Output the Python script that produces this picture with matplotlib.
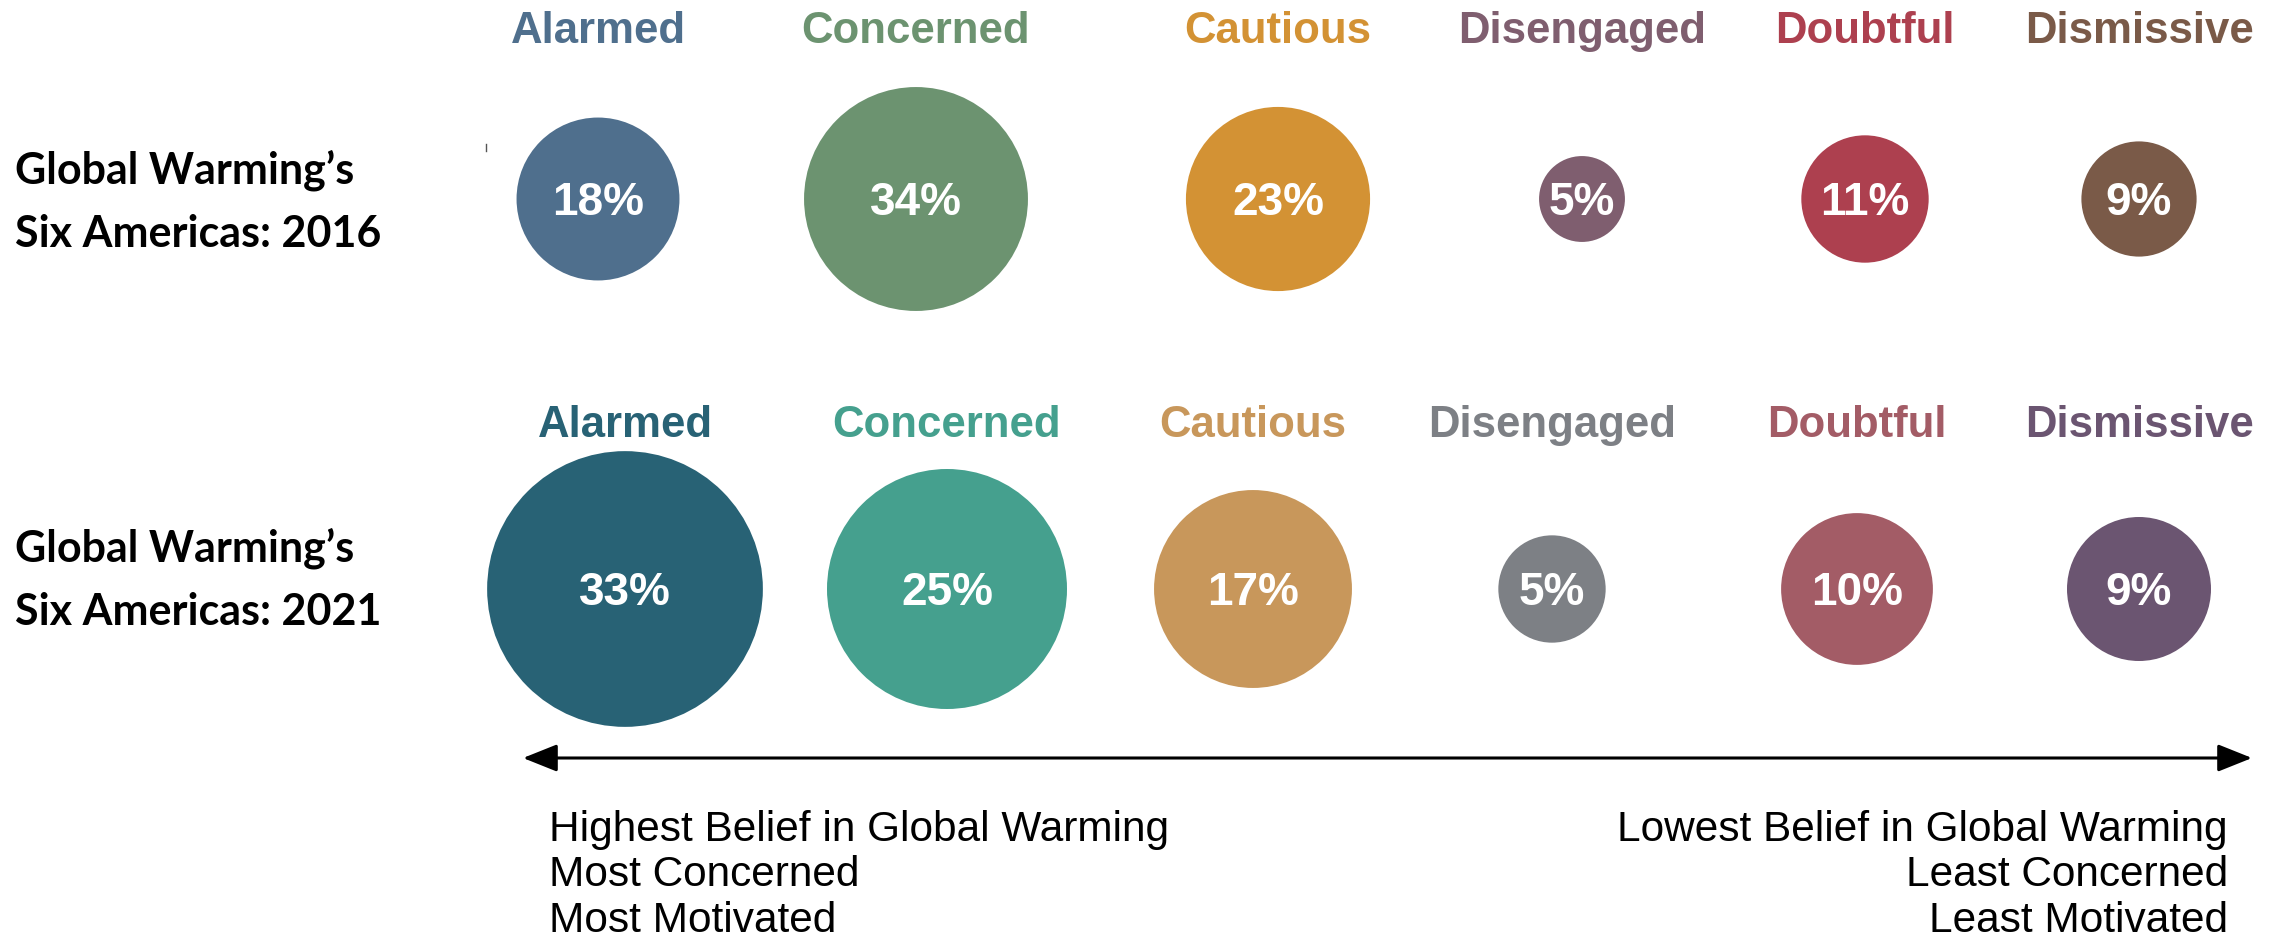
import numpy as np
import matplotlib
matplotlib.use('Agg')
import matplotlib.pyplot as plt
from matplotlib.patches import Circle

# data
segments = ['Alarmed', 'Concerned', 'Cautious', 'Disengaged', 'Doubtful', 'Dismissive']
pct_2016 = [18, 34, 23, 5, 11, 9]
pct_2021 = [33, 25, 17, 5, 10, 9]
row_titles = ["Global Warming\u2019s\nSix Americas: 2016", "Global Warming\u2019s\nSix Americas: 2021"]
left_notes = ['Highest Belief in Global Warming', 'Most Concerned', 'Most Motivated']
right_notes = ['Lowest Belief in Global Warming', 'Least Concerned', 'Least Motivated']

colors_2016 = ['#4f6f8d', '#6c9370', '#d39234', '#7f5e6f', '#ad404f', '#7a5a48']
colors_2021 = ['#286275', '#45a08e', '#c8975b', '#7d8085', '#a35c66', '#6b5571']

# layout (pixels of the 2269x937 canvas)
W, H = 2269, 937
xpos_2016 = [598, 916, 1278, 1582, 1865, 2139]
xpos_2021 = [625, 947, 1253, 1552, 1857, 2139]
rows = [
    dict(pct=pct_2016, cols=colors_2016, xs=xpos_2016, y=200, k=19.2, lab_base=43, title_base=247),
    dict(pct=pct_2021, cols=colors_2021, xs=xpos_2021, y=590, k=24.0, lab_base=437, title_base=625),
]

fig = plt.figure(figsize=(W/100, H/100), dpi=100)
ax = fig.add_axes([0, 0, 1, 1])
ax.set_xlim(0, W)
ax.set_ylim(H, 0)
ax.axis('off')

for row, title in zip(rows, row_titles):
    for name, p, c, x in zip(segments, row['pct'], row['cols'], row['xs']):
        r = row['k'] * np.sqrt(p)
        ax.add_patch(Circle((x, row['y']), r, facecolor=c, edgecolor='none'))
        ax.text(x, row['y'] + 15, '%d%%' % p, color='white', fontsize=33, fontweight='bold',
                family='Liberation Sans', ha='center', va='baseline')
        ax.text(x, row['lab_base'], name, color=c, fontsize=31.5, fontweight='bold',
                family='Liberation Sans', ha='center', va='baseline')
    ax.text(15, row['title_base'], title, color='black', fontsize=31, fontweight='bold',
            family='Lato', ha='left', va='baseline', linespacing=1.7)

# small stray mark from the original
ax.plot([486, 486], [145, 152], color='#555555', lw=1)

# belief arrow
ax.annotate('', xy=(2252, 759), xytext=(523, 759),
            arrowprops=dict(arrowstyle='<|-|>,head_length=1.5,head_width=0.6',
                            mutation_scale=14, lw=2.2, color='black',
                            shrinkA=0, shrinkB=0))

for i, (l, r) in enumerate(zip(left_notes, right_notes)):
    yb = 841 + i * 45.5
    ax.text(549, yb, l, fontsize=30.5, family='Liberation Sans', ha='left', va='baseline')
    ax.text(2228, yb, r, fontsize=30.5, family='Liberation Sans', ha='right', va='baseline')

plt.savefig('out.png', dpi=100)
